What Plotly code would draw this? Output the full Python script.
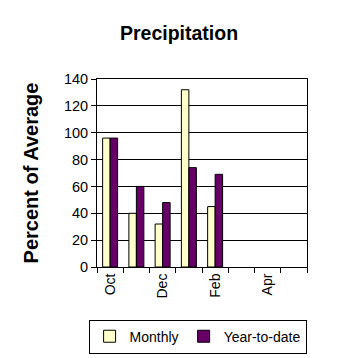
import plotly.graph_objects as go

months = ["Oct", "Nov", "Dec", "Jan", "Feb", "Mar", "Apr", "May"]
tick_labels = ["Oct", "", "Dec", "", "Feb", "", "Apr", ""]
monthly = [96, 40, 32, 132, 45, None, None, None]
ytd = [96, 60, 48, 74, 69, None, None, None]

fig = go.Figure()
fig.add_trace(go.Bar(x=months, y=monthly, name="Monthly",
                     marker=dict(color="#FFFFCC", line=dict(color="black", width=1))))
fig.add_trace(go.Bar(x=months, y=ytd, name="Year-to-date",
                     marker=dict(color="#660066", line=dict(color="black", width=1))))

W = H = 350  # page has an 8px body margin
fig.update_layout(
    width=W, height=H,
    margin=dict(l=89, r=51, t=71, b=91, autoexpand=False),
    paper_bgcolor="white", plot_bgcolor="white",
    font=dict(family="Liberation Sans, Arial, sans-serif", size=13, color="black"),
    title=dict(text="<b>Precipitation</b>", x=(179 - 8) / W, xanchor="center",
               y=1 - 25 / H, yanchor="middle", font=dict(size=19.5)),
    barmode="group", bargap=0.43, bargroupgap=0,
    showlegend=True,
    legend=dict(orientation="h", x=-0.04, xanchor="left", y=-0.28, yanchor="top",
                bordercolor="black", borderwidth=1, font=dict(size=14),
                itemwidth=30, tracegroupgap=0),
    xaxis=dict(type="category", categoryorder="array", categoryarray=months,
               tickvals=months, ticktext=tick_labels, tickangle=-90,
               tickson="boundaries", ticks="outside", ticklen=5, tickcolor="black",
               showline=True, linecolor="black", linewidth=1, mirror=True,
               showgrid=False, tickfont=dict(size=14), automargin=False),
    yaxis=dict(range=[0, 140], dtick=20, ticks="outside", ticklen=5, tickcolor="black",
               showline=True, linecolor="black", linewidth=1, mirror=True,
               showgrid=True, gridcolor="black", gridwidth=1, zeroline=False,
               tickfont=dict(size=14.5), automargin=False,
               title=dict(text="<b>Percent of Average</b>", font=dict(size=20), standoff=19)),
)

fig.write_html("out.html")
